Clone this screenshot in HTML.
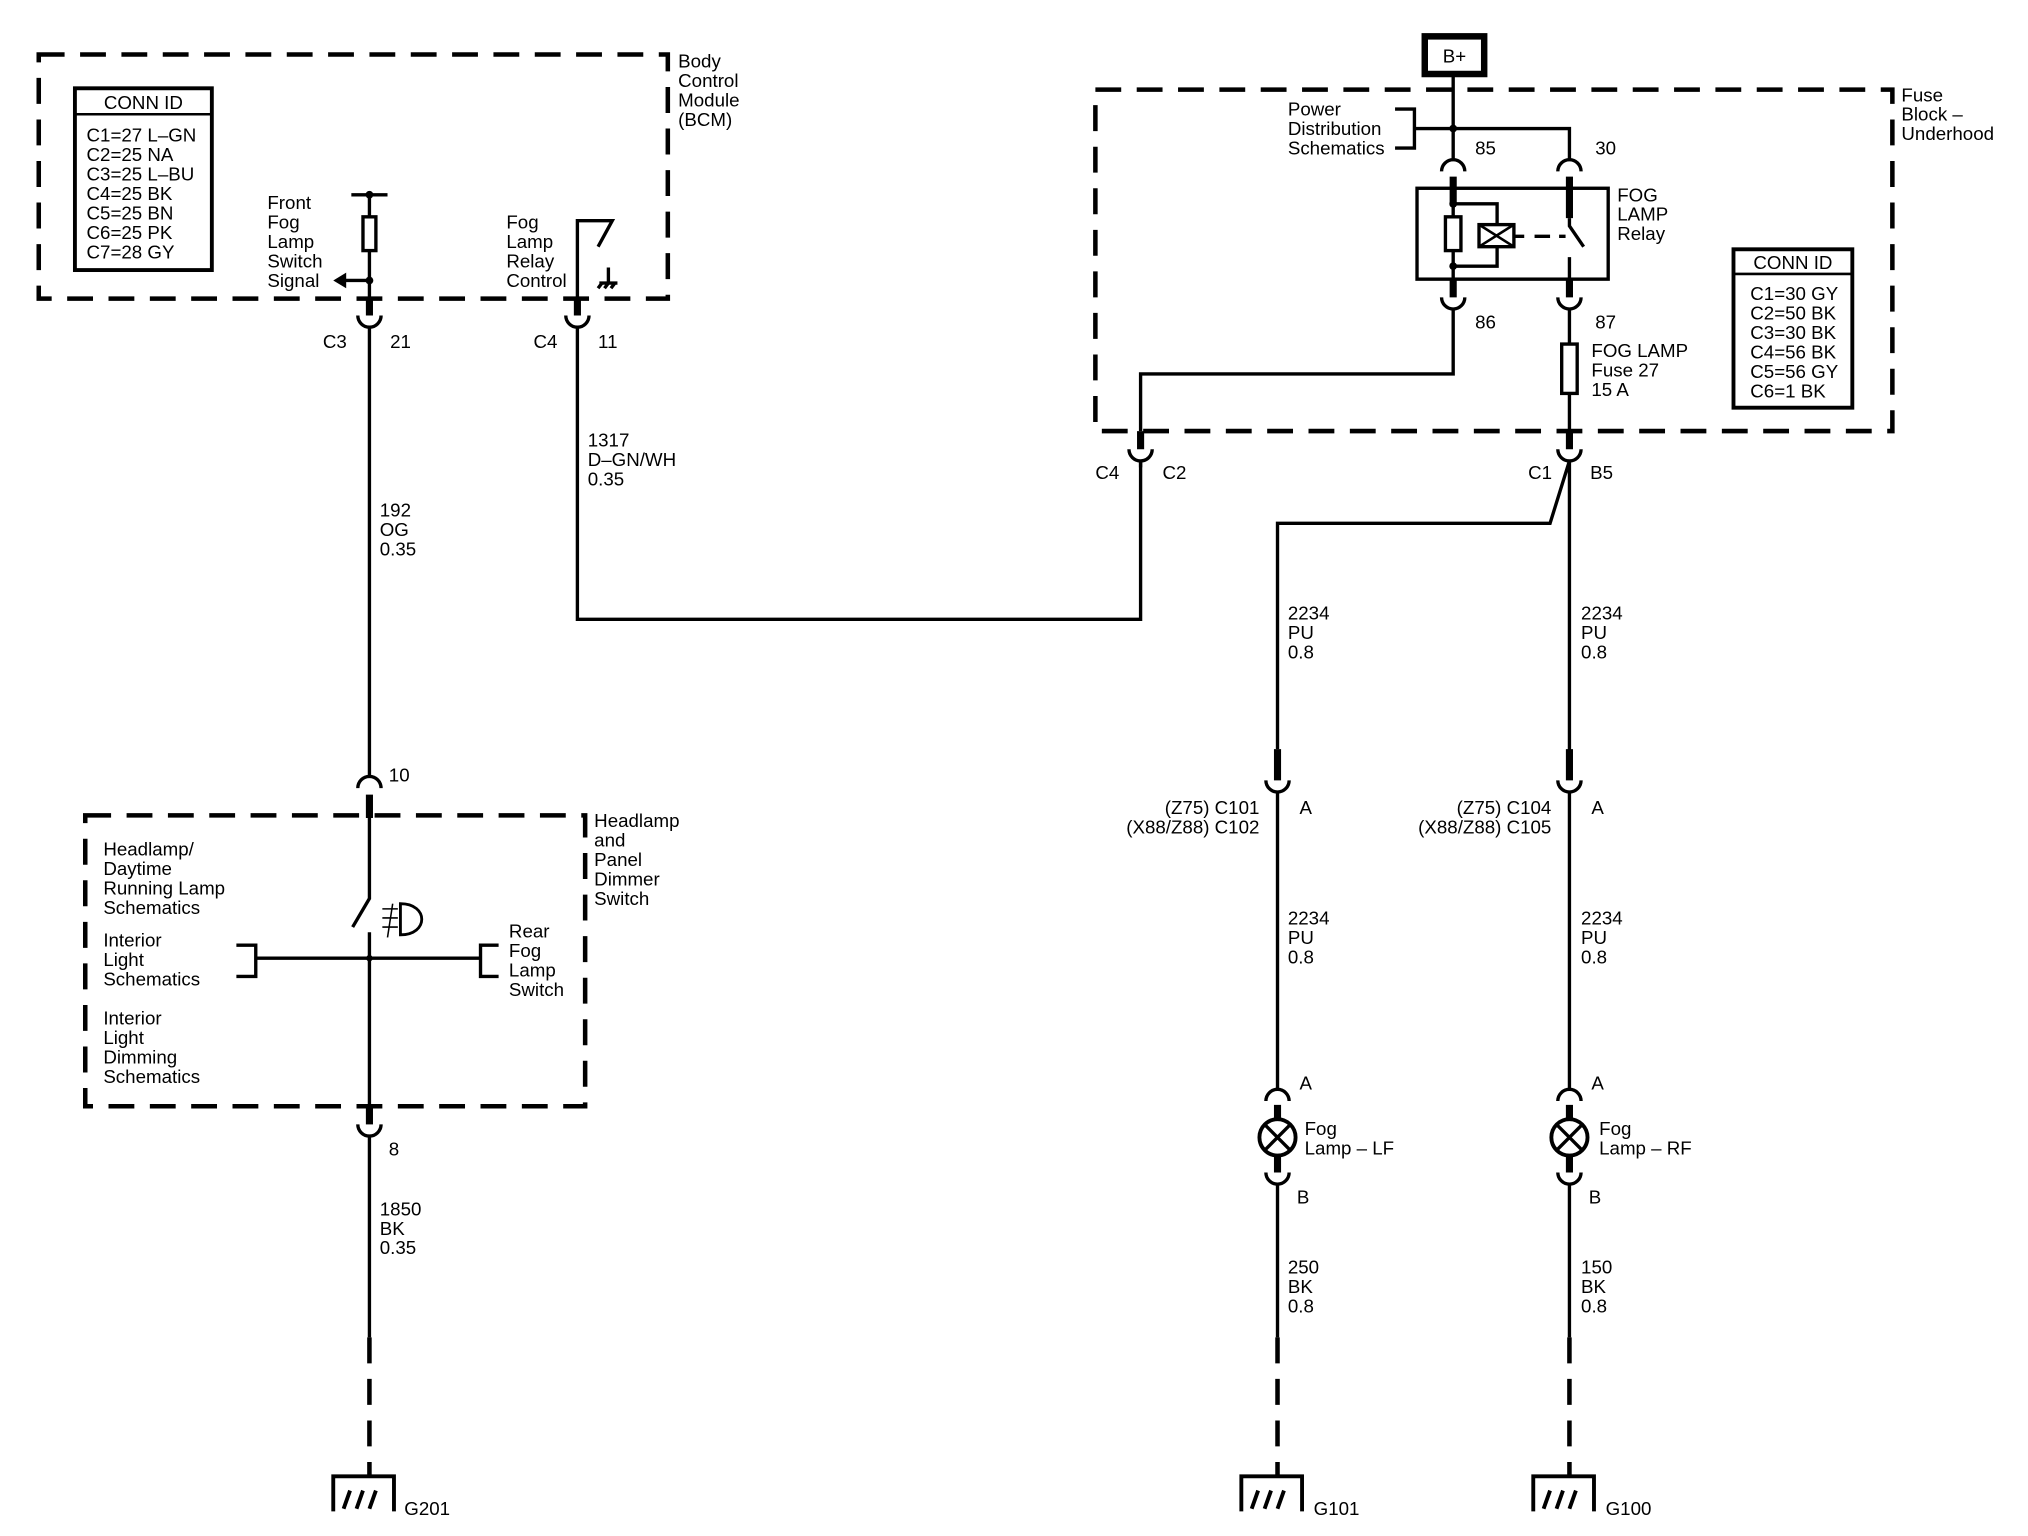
<!DOCTYPE html>
<html><head><meta charset="utf-8"><style>
html,body{margin:0;padding:0;background:#fff}
svg{display:block}
text{font-family:"Liberation Sans",Arial,sans-serif;font-size:14.5px;fill:#000}
</style></head><body>
<svg width="2028" height="1536" viewBox="0 0 1570 1183" preserveAspectRatio="none" xmlns="http://www.w3.org/2000/svg">
<g fill="none" stroke="#000" stroke-width="2.6">
<g stroke-width="3.5" stroke-dasharray="20 12">
<rect x="30" y="42" width="487" height="188"/>
<rect x="66" y="628" width="387" height="224"/>
<rect x="848" y="69" width="617" height="263"/>
<path d="M286 1030V1136M989 1030V1136M1215 1030V1136"/>
</g>
<rect x="58" y="68" width="106" height="140" stroke-width="3"/>
<path d="M58 88H164" stroke-width="2"/>
<rect x="1342" y="192" width="92" height="122" stroke-width="3"/>
<path d="M1342 211H1434" stroke-width="2"/>
<path d="M272 150H300M286 150V167M286 193V216"/>
<rect x="281" y="167" width="10" height="26"/>
<path d="M286 216H266"/>
<path d="M286 216V230"/>
<path d="M286 230V243" stroke-width="5.5"/>
<path d="M277 243A9 9 0 0 0 295 243"/>
<path d="M286 252V598"/>
<path d="M447 230V170H474L463 190"/>
<path d="M447 230V243" stroke-width="5.5"/>
<path d="M438 243A9 9 0 0 0 456 243"/>
<path d="M447 252V477H883V355"/>
<path d="M464 218H478M466 218L463 222M471 218L468 222M476 218L473 222M471 206V218"/>
<path d="M277 607A9 9 0 0 1 295 607"/>
<path d="M286 612V630" stroke-width="5.5"/>
<path d="M286 630V692L273 714M286 718V852"/>
<path d="M198 738H372"/>
<path d="M183 728H198V752H183M386 728H372V752H386"/>
<path d="M310 696C332 696 332 720 310 720Z" stroke-width="2.2"/>
<path d="M296 700H308M296 707H308M296 714H308M304 696L300 722" stroke-width="1.2"/>
<path d="M286 852V866" stroke-width="5.5"/>
<path d="M277 866A9 9 0 0 0 295 866"/>
<path d="M286 875V1030"/>
<rect x="1103" y="28" width="46" height="29" stroke-width="5"/>
<path d="M1125 58V123M1095 99H1215V123"/>
<path d="M1080 84H1095V114H1080"/>
<path d="M1116 132A9 9 0 0 1 1134 132M1206 132A9 9 0 0 1 1224 132"/>
<path d="M1125 136V158M1215 136V168" stroke-width="5.5"/>
<rect x="1097" y="145" width="148" height="70"/>
<path d="M1125 158V167M1125 193V215"/>
<rect x="1119" y="167" width="12" height="26"/>
<path d="M1125 157H1159V173M1125 205H1159V190"/>
<rect x="1145" y="173" width="27" height="17"/>
<path d="M1145 173L1172 190M1145 190L1172 173" stroke-width="2"/>
<path d="M1172 182H1180M1188 182H1200M1207 182H1212" />
<path d="M1215 168V174L1226 190M1215 198V215"/>
<path d="M1125 215V229M1215 215V229" stroke-width="5.5"/>
<path d="M1116 229A9 9 0 0 0 1134 229M1206 229A9 9 0 0 0 1224 229"/>
<path d="M1125 238V288H883V332M1215 238V265M1215 303V332"/>
<rect x="1209" y="265" width="12" height="38" stroke-width="2.6"/>
<path d="M883 332V346M1215 332V346" stroke-width="5.5"/>
<path d="M874 346A9 9 0 0 0 892 346M1206 346A9 9 0 0 0 1224 346"/>
<path d="M883 355V360M1215 355V598M1215 355L1200 403H989V577"/>
<path d="M989 577V601M1215 577V601" stroke-width="5.5"/>
<path d="M980 601A9 9 0 0 0 998 601M1206 601A9 9 0 0 0 1224 601"/>
<path d="M989 610V839M1215 610V839"/>
<path d="M980 848A9 9 0 0 1 998 848M1206 848A9 9 0 0 1 1224 848"/>
<path d="M989 851V862M989 890V903M1215 851V862M1215 890V903" stroke-width="5.5"/>
<circle cx="989" cy="876" r="14" stroke-width="3"/>
<circle cx="1215" cy="876" r="14" stroke-width="3"/>
<path d="M979 866L999 886M999 866L979 886M1205 866L1225 886M1225 866L1205 886"/>
<path d="M980 903A9 9 0 0 0 998 903M1206 903A9 9 0 0 0 1224 903"/>
<path d="M989 912V1030M1215 912V1030"/>
<g stroke-width="3">
<path d="M258 1164V1137H305V1164M266 1162L271 1148M276 1162L281 1148M286 1162L291 1148"/>
<path d="M961 1164V1137H1008V1164M969 1162L974 1148M979 1162L984 1148M989 1162L994 1148"/>
<path d="M1187 1164V1137H1234V1164M1195 1162L1200 1148M1205 1162L1210 1148M1215 1162L1220 1148"/>
</g>
</g>
<g fill="#000">
<circle cx="286" cy="150" r="3"/><circle cx="286" cy="216" r="3"/>
<path d="M258 216L268 210V222Z"/>
<circle cx="286" cy="738" r="2.5"/>
<circle cx="1125" cy="99" r="3"/>
<circle cx="1125" cy="157" r="3"/><circle cx="1125" cy="205" r="3"/>
</g>
<text x="525" y="52">Body</text><text x="525" y="67">Control</text><text x="525" y="82">Module</text><text x="525" y="97">(BCM)</text>
<text x="111" y="84" text-anchor="middle">CONN ID</text>
<text x="67" y="109">C1=27 L–GN</text><text x="67" y="124">C2=25 NA</text><text x="67" y="139">C3=25 L–BU</text><text x="67" y="154">C4=25 BK</text><text x="67" y="169">C5=25 BN</text><text x="67" y="184">C6=25 PK</text><text x="67" y="199">C7=28 GY</text>
<text x="207" y="161">Front</text><text x="207" y="176">Fog</text><text x="207" y="191">Lamp</text><text x="207" y="206">Switch</text><text x="207" y="221">Signal</text>
<text x="392" y="176">Fog</text><text x="392" y="191">Lamp</text><text x="392" y="206">Relay</text><text x="392" y="221">Control</text>
<text x="250" y="268">C3</text><text x="302" y="268">21</text>
<text x="413" y="268">C4</text><text x="463" y="268">11</text>
<text x="455" y="344">1317</text><text x="455" y="359">D–GN/WH</text><text x="455" y="374">0.35</text>
<text x="294" y="398">192</text><text x="294" y="413">OG</text><text x="294" y="428">0.35</text>
<text x="301" y="602">10</text>
<text x="460" y="637">Headlamp</text><text x="460" y="652">and</text><text x="460" y="667">Panel</text><text x="460" y="682">Dimmer</text><text x="460" y="697">Switch</text>
<text x="80" y="659">Headlamp/</text><text x="80" y="674">Daytime</text><text x="80" y="689">Running Lamp</text><text x="80" y="704">Schematics</text>
<text x="80" y="729">Interior</text><text x="80" y="744">Light</text><text x="80" y="759">Schematics</text>
<text x="80" y="789">Interior</text><text x="80" y="804">Light</text><text x="80" y="819">Dimming</text><text x="80" y="834">Schematics</text>
<text x="394" y="722">Rear</text><text x="394" y="737">Fog</text><text x="394" y="752">Lamp</text><text x="394" y="767">Switch</text>
<text x="301" y="890">8</text>
<text x="294" y="936">1850</text><text x="294" y="951">BK</text><text x="294" y="966">0.35</text>
<text x="313" y="1167">G201</text>
<text x="1126" y="48" text-anchor="middle">B+</text>
<text x="997" y="89">Power</text><text x="997" y="104">Distribution</text><text x="997" y="119">Schematics</text>
<text x="1142" y="119">85</text><text x="1235" y="119">30</text>
<text x="1252" y="155">FOG</text><text x="1252" y="170">LAMP</text><text x="1252" y="185">Relay</text>
<text x="1472" y="78">Fuse</text><text x="1472" y="93">Block –</text><text x="1472" y="108">Underhood</text>
<text x="1142" y="253">86</text><text x="1235" y="253">87</text>
<text x="1232" y="275">FOG LAMP</text><text x="1232" y="290">Fuse 27</text><text x="1232" y="305">15 A</text>
<text x="1388" y="207" text-anchor="middle">CONN ID</text>
<text x="1355" y="231">C1=30 GY</text><text x="1355" y="246">C2=50 BK</text><text x="1355" y="261">C3=30 BK</text><text x="1355" y="276">C4=56 BK</text><text x="1355" y="291">C5=56 GY</text><text x="1355" y="306">C6=1 BK</text>
<text x="848" y="369">C4</text><text x="900" y="369">C2</text>
<text x="1183" y="369">C1</text><text x="1231" y="369">B5</text>
<text x="997" y="477">2234</text><text x="997" y="492">PU</text><text x="997" y="507">0.8</text>
<text x="1224" y="477">2234</text><text x="1224" y="492">PU</text><text x="1224" y="507">0.8</text>
<text x="975" y="627" text-anchor="end">(Z75) C101</text><text x="975" y="642" text-anchor="end">(X88/Z88) C102</text><text x="1006" y="627">A</text>
<text x="1201" y="627" text-anchor="end">(Z75) C104</text><text x="1201" y="642" text-anchor="end">(X88/Z88) C105</text><text x="1232" y="627">A</text>
<text x="997" y="712">2234</text><text x="997" y="727">PU</text><text x="997" y="742">0.8</text>
<text x="1224" y="712">2234</text><text x="1224" y="727">PU</text><text x="1224" y="742">0.8</text>
<text x="1006" y="839">A</text><text x="1232" y="839">A</text>
<text x="1010" y="874">Fog</text><text x="1010" y="889">Lamp – LF</text>
<text x="1238" y="874">Fog</text><text x="1238" y="889">Lamp – RF</text>
<text x="1004" y="927">B</text><text x="1230" y="927">B</text>
<text x="997" y="981">250</text><text x="997" y="996">BK</text><text x="997" y="1011">0.8</text>
<text x="1224" y="981">150</text><text x="1224" y="996">BK</text><text x="1224" y="1011">0.8</text>
<text x="1017" y="1167">G101</text><text x="1243" y="1167">G100</text>
</svg>
</body></html>
